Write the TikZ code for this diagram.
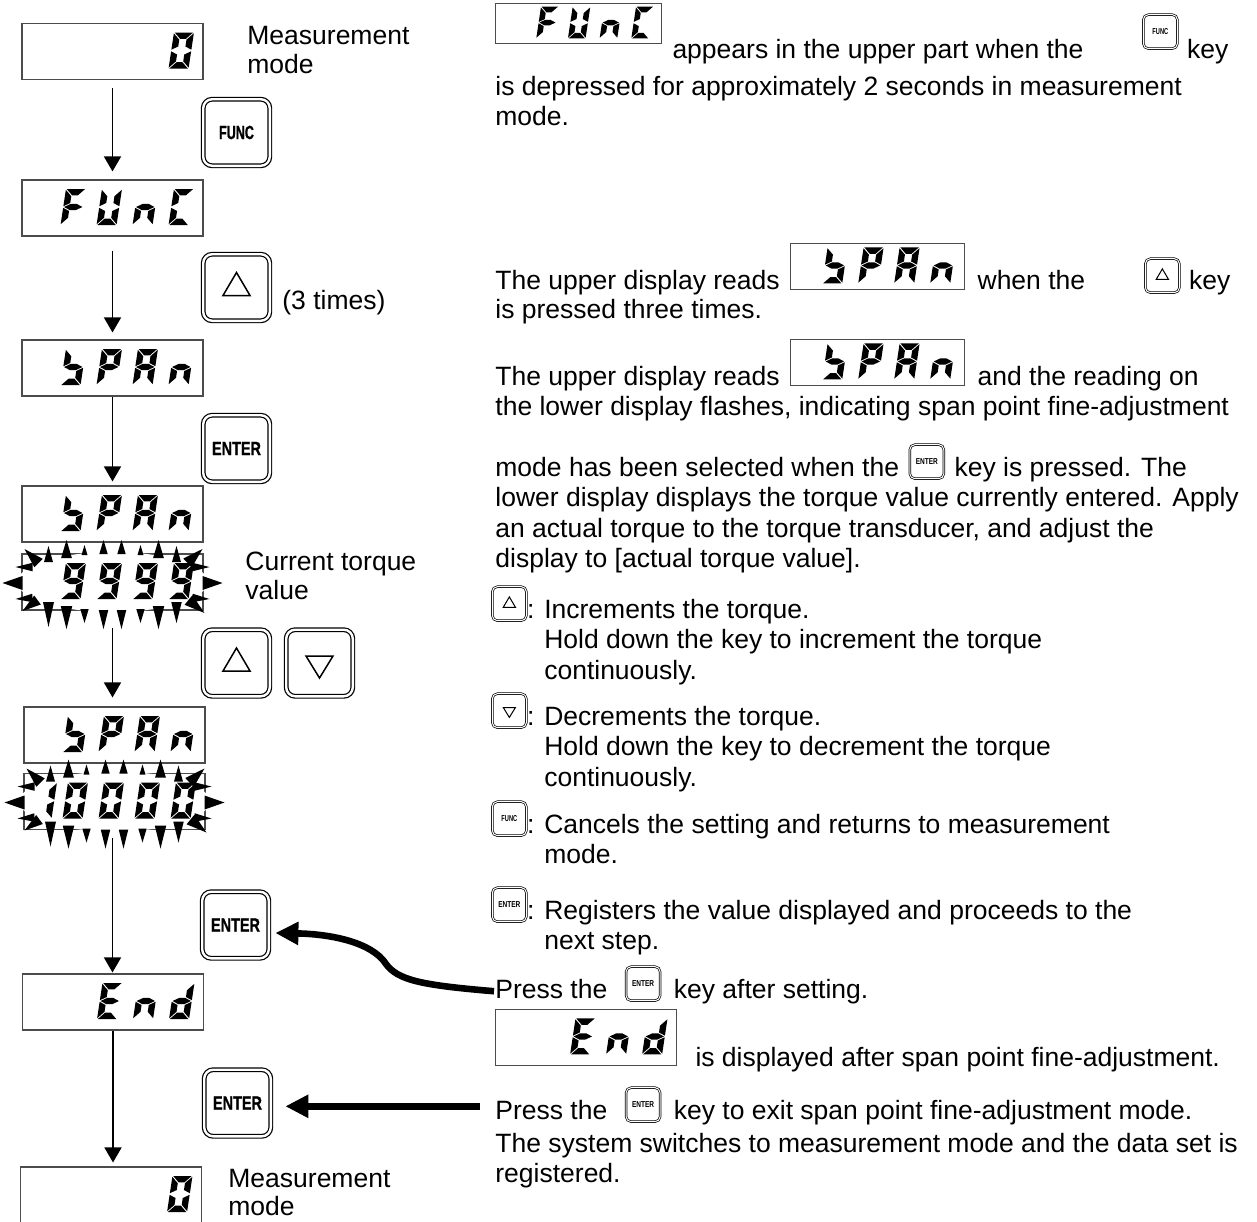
\documentclass[tikz,border=0pt]{standalone}
\usepackage{fontspec}
\setmainfont{Liberation Sans}
\usepackage{graphicx}
\usetikzlibrary{positioning,arrows.meta,calc}

% seven-segment pieces (local px, y upwards, glyph box 20 x 36)
\newcommand{\sega}{\fill (0.8,36) -- (19.2,36) -- (12.8,29.6) -- (7.2,29.6) -- cycle;}
\newcommand{\segd}{\fill (0.8,0) -- (19.2,0) -- (12.8,6.4) -- (7.2,6.4) -- cycle;}
\newcommand{\segf}{\fill (0,35.2) -- (6.4,28.8) -- (6.4,22) -- (0,18.8) -- cycle;}
\newcommand{\sege}{\fill (0,0.8) -- (6.4,7.2) -- (6.4,14) -- (0,17.2) -- cycle;}
\newcommand{\segbx}[1]{\fill (#1,35.2) -- (#1-6.4,28.8) -- (#1-6.4,22) -- (#1,18.8) -- cycle;}
\newcommand{\segcx}[1]{\fill (#1,0.8) -- (#1-6.4,7.2) -- (#1-6.4,14) -- (#1,17.2) -- cycle;}
\newcommand{\segb}{\segbx{20}}
\newcommand{\segc}{\segcx{20}}
\newcommand{\segg}{\fill (0.8,18) -- (7.2,21.2) -- (12.8,21.2) -- (19.2,18) -- (12.8,14.8) -- (7.2,14.8) -- cycle;}
\expandafter\def\csname lcdch0\endcsname{\sega\segb\segc\segd\sege\segf}
\expandafter\def\csname lcdch1\endcsname{\segbx{25}\segcx{25}}
\expandafter\def\csname lcdch9\endcsname{\sega\segb\segc\segd\segf\segg}
\expandafter\def\csname lcdchF\endcsname{\sega\sege\segf\segg}
\expandafter\def\csname lcdchU\endcsname{\segb\segc\segd\sege\segf}
\expandafter\def\csname lcdchn\endcsname{\segc\sege\segg}
\expandafter\def\csname lcdchC\endcsname{\sega\segd\sege\segf}
\expandafter\def\csname lcdchS\endcsname{\segf\segg\segc\segd}
\expandafter\def\csname lcdchP\endcsname{\sega\segb\sege\segf\segg}
\expandafter\def\csname lcdchA\endcsname{\sega\segb\segc\sege\segf\segg}
\expandafter\def\csname lcdchE\endcsname{\sega\segd\sege\segf\segg}
\expandafter\def\csname lcdchd\endcsname{\segb\segc\segd\sege\segg}

% display reading: node, first cell (of 5), characters, scale
\newcommand{\lcd}[4]{%
  \foreach \lc [count=\li from #2] in {#3}{
    \begin{scope}[shift={($(#1.east)+({-(35+(5-\li)*36)*#4},{17*#4})$)}, scale=#4, xslant=0.15, yscale=-1]
      \csname lcdch\lc\endcsname
    \end{scope}}}

% flashing marks round a display
\newcommand{\flash}[1]{%
  \fill[white] (#1.center) ellipse [x radius=95, y radius=30];
  \foreach \bx/\by/\tx/\ty/\hw in {
      -64/-20/-64/-36/0.28, -46/-24/-46/-42/0.3, -28/-27/-28/-37/0.3, -9/-28/-9/-42/0.3,
      9/-28/9/-42/0.3, 28/-27/28/-37/0.3, 46/-24/46/-42/0.3, 64/-20/64/-36/0.28,
      -64/20/-64/45/0.22, -46/24/-46/47/0.25, -28/27/-28/41/0.3, -9/28/-9/47/0.25,
      9/28/9/47/0.25, 28/27/28/41/0.3, 46/24/46/47/0.25, 64/20/64/41/0.25,
      -80/-15/-97/-15/0.25, -90/1/-110/1/0.35, -80/16/-97/17/0.25,
      80/-15/97/-15/0.25, 90/1/110/1/0.35, 80/16/97/17/0.25,
      -74/-19/-88/-33/0.3, 75/-19/90/-33/0.3, -75/18/-90/29/0.3, 76/18/92/31/0.3}{
    \coordinate (sb) at ($(#1.center)+(\bx,\by)$);
    \coordinate (st) at ($(#1.center)+(\tx,\ty)$);
    \fill ($(sb)!\hw!90:(st)$) -- (st) -- ($(sb)!\hw!-90:(st)$) -- cycle;
  }}

% key faces
\newcommand{\keylabel}[2]{\scalebox{#1}[1]{\fontsize{9.5}{9.5}\selectfont\bfseries\addfontfeatures{FakeBold=1.2}#2}}
\newcommand{\minilabel}[2]{\scalebox{#1}[1]{\fontsize{4.3}{4.3}\selectfont\bfseries #2}}
\newcommand{\uptri}[2]{\draw[line width={(0.3+0.45*#2)*1pt}] ($(#1.center)+(0,{-15*#2})$) -- ($(#1.center)+({13.5*#2},{8*#2})$) -- ($(#1.center)+({-13.5*#2},{8*#2})$) -- cycle;}
\newcommand{\downtri}[2]{\draw[line width={(0.3+0.45*#2)*1pt}] ($(#1.center)+(0,{15*#2})$) -- ($(#1.center)+({13.5*#2},{-7*#2})$) -- ($(#1.center)+({-13.5*#2},{-7*#2})$) -- cycle;}

\begin{document}
\begin{tikzpicture}[x=0.5pt, y=-0.5pt,
    lcdbox/.style={draw=black!70, line width=0.55pt, minimum width=90.5pt, minimum height=28pt, inner sep=0pt},
    bigkey/.style={draw, double, double distance=1.2pt, line width=0.6pt, rounded corners=4.5pt, minimum size=33.3pt, inner sep=0pt},
    minikey/.style={draw, double, double distance=0.5pt, line width=0.35pt, rounded corners=2.5pt, minimum width=17pt, minimum height=17pt, inner sep=0pt},
    txt/.style={anchor=base west, inner sep=0pt, text height=9.5pt, text depth=2.8pt, font=\fontsize{13.25}{15.25}\selectfont},
    arrow/.style={-{Triangle[length=7.5pt,width=8.5pt]}, line width=0.75pt},
    bigarrow/.style={-{Triangle[length=11.5pt,width=11pt]}, line width=3.3pt}
]
  \useasboundingbox (0,0) rectangle (1257,1221);

  % Left column: displays
  \node[lcdbox] (d1) at (112.5,51.5) {};
  \node[lcdbox] (d2) at (112.5,208) {};
  \node[lcdbox] (d3) at (112.5,368) {};
  \node[lcdbox] (d4) at (112.5,514) {};
  \node[lcdbox] (d5) at (112.5,582) {};
  \node[lcdbox] (d6) at (114.5,735) {};
  \node[lcdbox] (d7) at (114.5,801.5) {};
  \node[lcdbox] (d8) at (113,1002) {};
  \node[lcdbox] (d9) at (111,1195) {};
  \flash{d5}
  \flash{d7}
  \lcd{d1}{5}{0}{1}
  \lcd{d2}{2}{F,U,n,C}{1}
  \lcd{d3}{2}{S,P,A,n}{1}
  \lcd{d4}{2}{S,P,A,n}{1}
  \lcd{d5}{2}{9,9,9,9}{1}
  \lcd{d6}{2}{S,P,A,n}{1}
  \lcd{d7}{1}{1,0,0,0,0}{1}
  \lcd{d8}{3}{E,n,d}{1}
  \lcd{d9}{5}{0}{1}

  % Left column: keys
  \node[bigkey] (kfunc) at (236.5,132.5) {\keylabel{0.66}{FUNC}};
  \node[bigkey] (kup1) at (236.5,287.5) {};
  \uptri{kup1}{1}
  \node[bigkey] (kent1) at (236.5,448.5) {\keylabel{0.76}{ENTER}};
  \node[bigkey] (kup2) at (236.5,663) {};
  \uptri{kup2}{1}
  \node[bigkey] (kdown) at (319.5,663) {};
  \downtri{kdown}{1}
  \node[bigkey] (kent2) at (235.5,925) {\keylabel{0.76}{ENTER}};
  \node[bigkey] (kent3) at (237.5,1103) {\keylabel{0.76}{ENTER}};

  % Left column: labels
  \node[txt] (lmeas1) at (247,44) {Measurement};
  \node[txt] (lmode1) at (247,73) {mode};
  \node[txt] (ltimes) at (282,309) {(3 times)};
  \node[txt] (lcur) at (245,570) {Current torque};
  \node[txt] (lval) at (245,599) {value};
  \node[txt] (lmeas2) at (228,1187) {Measurement};
  \node[txt] (lmode2) at (228,1215) {mode};

  % Flow arrows
  \draw[arrow, shorten <=4pt, shorten >=4pt] (d1.south) -- (d2.north);
  \draw[arrow, shorten <=7pt, shorten >=3.5pt] (d2.south) -- (d3.north);
  \draw[arrow, shorten >=2pt] (d3.south) -- (d4.north);
  \draw[arrow, shorten <=8.5pt, shorten >=4.5pt] (d5.south) -- (d5.south |- d6.north);
  \draw[arrow, shorten <=4pt, shorten >=0.5pt] (d5.south |- d7.south) -- (d5.south |- d8.north);
  \draw[arrow, shorten >=2pt] (d8.south) -- (d8.south |- d9.north);

  % Right column: FUnC
  \node[lcdbox, minimum width=83pt, minimum height=20pt, anchor=south west] (rfunc) at (495,44) {};
  \lcd{rfunc}{2}{F,U,n,C}{0.88}
  \node[txt] (t1a) at ([shift={(5pt,-7pt)}]rfunc.south east) {appears in the upper part when the};
  \node[minikey, anchor=south west] (k1r) at (1143,49) {\minilabel{0.66}{FUNC}};
  \node[txt, xshift=4.5pt] (t1b) at (k1r.south east |- t1a.base) {key};
  \node[txt] (t1c) at (495,95) {is depressed for approximately 2 seconds in measurement};
  \node[txt] (t1d) at ([yshift=-15.25pt]t1c.base west) {mode.};

  % Right column: SPAn after three presses
  \node[txt] (t2a) at (495,289) {The upper display reads};
  \node[lcdbox, minimum width=87pt, minimum height=23pt, anchor=south west] (rspan1) at ([shift={(5pt,-0.5pt)}]t2a.base east) {};
  \lcd{rspan1}{2}{S,P,A,n}{1}
  \node[txt, xshift=6pt] (t2b) at (rspan1.south east |- t2a.base) {when the};
  \node[minikey, anchor=south west] (k2r) at (1145,293) {};
  \uptri{k2r}{0.45}
  \node[txt, xshift=4.5pt] (t2c) at (k2r.south east |- t2a.base) {key};
  \node[txt] (t2d) at ([yshift=-14.5pt]t2a.base west) {is pressed three times.};

  % Right column: span point fine-adjustment mode
  \node[txt] (t3a) at (495,385) {The upper display reads};
  \node[lcdbox, minimum width=87pt, minimum height=23pt, anchor=south west] (rspan2) at ([shift={(5pt,-0.5pt)}]t3a.base east) {};
  \lcd{rspan2}{2}{S,P,A,n}{1}
  \node[txt, xshift=6pt] (t3b) at (rspan2.south east |- t3a.base) {and the reading on};
  \node[txt] (t3c) at ([yshift=-15pt]t3a.base west) {the lower display flashes, indicating span point fine-adjustment};
  \node[txt] (t3d) at (495,476) {mode has been selected when the};
  \node[minikey, anchor=south west] (k3r) at ([shift={(5pt,-1.5pt)}]t3d.base east) {\minilabel{0.76}{ENTER}};
  \node[txt, xshift=5pt] (t3e) at (k3r.south east |- t3d.base) {key is pressed. The};
  \node[txt] (t3f) at ([yshift=-15.25pt]t3d.base west) {lower display displays the torque value currently entered. Apply};
  \node[txt] (t3g) at ([yshift=-15.25pt]t3f.base west) {an actual torque to the torque transducer, and adjust the};
  \node[txt] (t3h) at ([yshift=-15.25pt]t3g.base west) {display to [actual torque value].};

  % Right column: key meanings
  \node[minikey, anchor=south west] (kinc) at (492,621) {};
  \uptri{kinc}{0.45}
  \node[txt] (t4a) at ([yshift=1.5pt]kinc.south east) {: Increments the torque.};
  \node[txt] (t4b) at ([yshift=-15.25pt]t4a.base west) {\phantom{: }Hold down the key to increment the torque};
  \node[txt] (t4c) at ([yshift=-15.25pt]t4b.base west) {\phantom{: }continuously.};
  \node[minikey, anchor=south west] (kdec) at (492,728) {};
  \downtri{kdec}{0.45}
  \node[txt] (t5a) at ([yshift=1.5pt]kdec.south east) {: Decrements the torque.};
  \node[txt] (t5b) at ([yshift=-15.25pt]t5a.base west) {\phantom{: }Hold down the key to decrement the torque};
  \node[txt] (t5c) at ([yshift=-15.25pt]t5b.base west) {\phantom{: }continuously.};
  \node[minikey, anchor=south west] (kfn) at (492,836) {\minilabel{0.66}{FUNC}};
  \node[txt] (t6a) at ([yshift=1.5pt]kfn.south east) {: Cancels the setting and returns to measurement};
  \node[txt] (t6b) at ([yshift=-15.25pt]t6a.base west) {\phantom{: }mode.};
  \node[minikey, anchor=south west] (ken) at (492,922) {\minilabel{0.76}{ENTER}};
  \node[txt] (t7a) at ([yshift=1.5pt]ken.south east) {: Registers the value displayed and proceeds to the};
  \node[txt] (t7b) at ([yshift=-15.25pt]t7a.base west) {\phantom{: }next step.};

  % Right column: End and exit
  \node[txt] (t8a) at (495,998) {Press the};
  \node[minikey, anchor=south west] (k8r) at ([shift={(9pt,-1.5pt)}]t8a.base east) {\minilabel{0.76}{ENTER}};
  \node[txt, xshift=6.5pt] (t8b) at (k8r.south east |- t8a.base) {key after setting.};
  \node[lcdbox, anchor=south west] (rend) at (495,1066) {};
  \lcd{rend}{3}{E,n,d}{1}
  \node[txt] (t8c) at ([shift={(9pt,0pt)}]rend.south east) {is displayed after span point fine-adjustment.};
  \node[txt] (t9a) at (495,1119) {Press the};
  \node[minikey, anchor=south west] (k9r) at ([shift={(9pt,-1.5pt)}]t9a.base east) {\minilabel{0.76}{ENTER}};
  \node[txt, xshift=6.5pt] (t9b) at (k9r.south east |- t9a.base) {key to exit span point fine-adjustment mode.};
  \node[txt] (t9c) at (495,1152) {The system switches to measurement mode and the data set is};
  \node[txt] (t9d) at ([yshift=-15.25pt]t9c.base west) {registered.};

  % Thick pointers back to the keys
  \coordinate (p9) at ([yshift=3pt]t9a.west);
  \draw[bigarrow, shorten <=0.5pt] (t8a.west) .. controls (420,985) and (398,980) .. (386,964)
      .. controls (372,942) and (330,934) .. ([shift={(6,8)}]kent2.east);
  \draw[bigarrow, shorten <=7.5pt, shorten >=7pt] (p9) -- (kent3.east |- p9);
\end{tikzpicture}
\end{document}
